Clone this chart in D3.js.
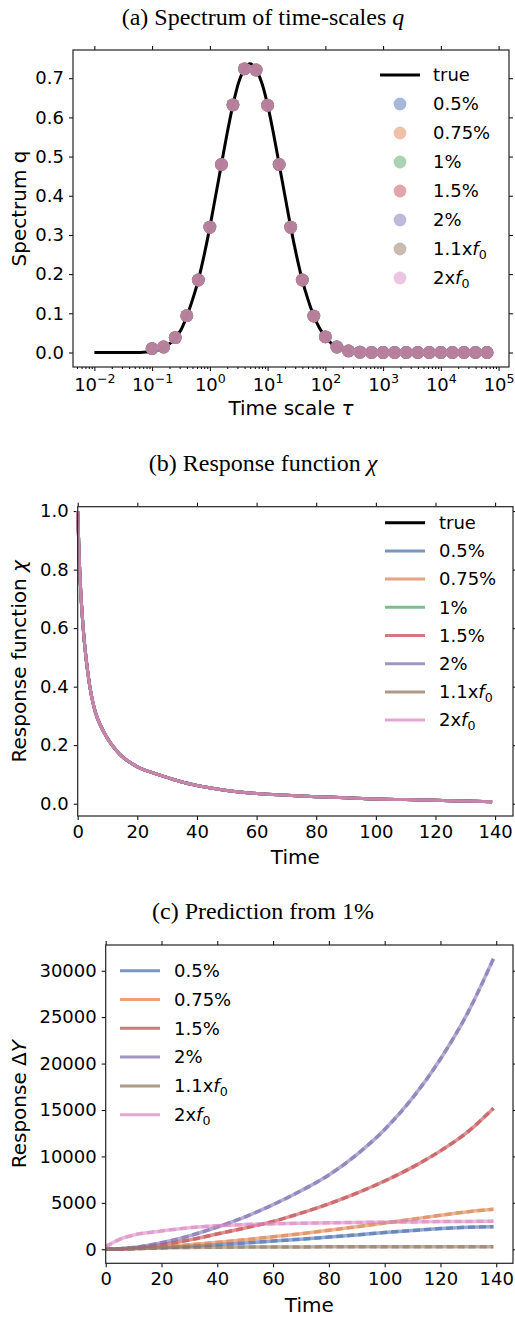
<!DOCTYPE html>
<html><head><meta charset="utf-8">
<script src="https://cdn.jsdelivr.net/npm/d3@7"></script>
<style>body{margin:0;background:#fff} svg{display:block}</style>
</head><body>
<svg id="c" width="515" height="1317"></svg>
<script>
// ---------- DATA ----------
const seriesNames  = ["0.5%", "0.75%", "1%", "1.5%", "2%", "1.1xf0", "2xf0"];
const seriesColors = ["#4C72B0", "#DD8452", "#55A868", "#C44E52", "#8172B3", "#937860", "#DA8BC3"];

// (a) spectrum: true curve (log10 tau) and fitted points
const trueLogTau = [-2.0,-1.8,-1.6,-1.4,-1.2,-1.1,-1.0,-0.9,-0.8,-0.7,-0.6,-0.5,-0.4,-0.3,-0.2,-0.1,0.0,0.1,0.2,0.3,0.4,0.5,0.6,0.7,0.8,0.9,1.0,1.1,1.2,1.3,1.4,1.5,1.6,1.7,1.8,1.9,2.0,2.1,2.2,2.3,2.4,2.5,2.6,2.8,3.2,3.6,4.0,4.4,4.8];
const trueQ      = [0,0,0,0,0,0.001,0.003,0.006,0.012,0.022,0.036,0.058,0.092,0.135,0.185,0.248,0.32,0.40,0.48,0.56,0.632,0.69,0.724,0.737,0.722,0.688,0.632,0.56,0.48,0.40,0.32,0.248,0.185,0.135,0.093,0.062,0.04,0.024,0.014,0.008,0.004,0.002,0.001,0,0,0,0,0,0];
const pointLogTau = [-1.0,-0.8,-0.6,-0.4,-0.2,0.0,0.2,0.4,0.6,0.8,1.0,1.2,1.4,1.6,1.8,2.0,2.2,2.4,2.6,2.8,3.0,3.2,3.4,3.6,3.8,4.0,4.2,4.4,4.6,4.8];
const pointQ      = [0.010,0.014,0.038,0.094,0.185,0.32,0.48,0.632,0.724,0.721,0.631,0.48,0.32,0.185,0.093,0.040,0.014,0.004,0.001,0,0,0,0,0,0,0,0,0,0,0];

// (b) response function
const chiTime   = [0,0.5,1,2,3,4,5,6,8,10,12,14,16,18,20,25,30,35,40,50,60,70,80,90,100,110,120,130,139];
const chiValues = [1.0,0.84,0.73,0.58,0.48,0.405,0.35,0.31,0.26,0.223,0.194,0.17,0.152,0.138,0.126,0.106,0.09,0.074,0.062,0.045,0.035,0.029,0.024,0.02,0.016,0.014,0.012,0.009,0.007];

// (c) prediction
const predNames  = ["0.5%", "0.75%", "1.5%", "2%", "1.1xf0", "2xf0"];
const predColors = ["#4C72B0", "#DD8452", "#C44E52", "#8172B3", "#937860", "#DA8BC3"];
const predTime   = [0,5,10,20,30,40,50,60,70,80,90,100,110,120,130,139];
const pred05  = [0,20,50,170,320,500,680,880,1090,1310,1550,1800,2030,2230,2380,2430];
const pred075 = [0,25,70,250,480,750,1030,1340,1680,2040,2420,2820,3240,3660,4050,4300];
const pred15  = [0,40,140,500,1000,1650,2300,3000,3900,4900,6050,7350,8850,10600,12700,15200];
const pred2   = [0,50,190,700,1450,2400,3500,4800,6300,8000,10200,12900,16300,20500,25600,31300];
const pred11f = [0,60,110,170,200,220,235,245,255,262,268,272,276,278,280,280];
const pred2f  = [280,1075,1540,1970,2330,2540,2660,2740,2800,2850,2890,2920,2950,2980,3000,3015];

// ---------- DRAW ----------
const svg = d3.select("#c");
const SANS = "DejaVu Sans", SERIF = "Liberation Serif";
const TICK_FS = 18, LABEL_FS = 20, LEG_FS = 18, TITLE_FS = 24;

function styleAxis(g) {
  g.selectAll("path.domain").remove();
  g.selectAll("line").attr("stroke", "#000").attr("stroke-width", 1);
  g.selectAll("text").attr("font-family", SANS).attr("font-size", TICK_FS).attr("fill", "#000");
}

function frame(x0, x1, y0, y1) {
  svg.append("rect").attr("x", x0).attr("y", y0).attr("width", x1 - x0).attr("height", y1 - y0)
    .attr("fill", "none").attr("stroke", "#222").attr("stroke-width", 1.2);
}

function title(text, italicTail, y) {
  const t = svg.append("text").attr("x", 263).attr("y", y).attr("text-anchor", "middle")
    .attr("font-family", SERIF).attr("font-size", TITLE_FS).attr("fill", "#000");
  t.append("tspan").text(text);
  if (italicTail) t.append("tspan").attr("font-style", "italic").text(italicTail);
}

function seriesLabel(sel, name) {
  const m = name.match(/^(.*x)f0$/);
  if (m) {
    sel.append("tspan").text(m[1]);
    sel.append("tspan").attr("font-style", "italic").text("f");
    sel.append("tspan").attr("font-size", LEG_FS * 0.7).attr("dy", 4).text("0");
  } else sel.text(name);
}

function linearAxes(x, y, xTicks, yTicks, yFmt, L, R, T, B) {
  const gb = svg.append("g").attr("transform", `translate(0,${B})`)
    .call(d3.axisBottom(x).tickValues(xTicks).tickSize(4).tickPadding(5).tickFormat(d3.format("d")));
  styleAxis(gb);
  const gt = svg.append("g").attr("transform", `translate(0,${T})`)
    .call(d3.axisTop(x).tickValues(xTicks).tickSize(4).tickFormat(""));
  styleAxis(gt);
  const gl = svg.append("g").attr("transform", `translate(${L},0)`)
    .call(d3.axisLeft(y).tickValues(yTicks).tickSize(4).tickPadding(5).tickFormat(yFmt));
  styleAxis(gl);
  const gr = svg.append("g").attr("transform", `translate(${R},0)`)
    .call(d3.axisRight(y).tickValues(yTicks).tickSize(4).tickFormat(""));
  styleAxis(gr);
}

function axisLabelX(text, cx, y, italicTail) {
  const t = svg.append("text").attr("x", cx).attr("y", y).attr("text-anchor", "middle")
    .attr("font-family", SANS).attr("font-size", LABEL_FS).attr("fill", "#000");
  t.append("tspan").text(text);
  if (italicTail) t.append("tspan").attr("font-style", "italic").text(italicTail);
}
function axisLabelY(parts, x, cy) {
  const t = svg.append("text").attr("transform", `translate(${x},${cy}) rotate(-90)`)
    .attr("text-anchor", "middle").attr("font-family", SANS).attr("font-size", LABEL_FS).attr("fill", "#000");
  parts.forEach(p => t.append("tspan").attr("font-style", p[1] ? "italic" : "normal").text(p[0]));
}

// ===== Panel (a) =====
{
  const L = 73, R = 509, T = 50, B = 367;
  const x = d3.scaleLog().domain([Math.pow(10, -2.37), Math.pow(10, 5.18)]).range([L, R]);
  const y = d3.scaleLinear().domain([-0.037, 0.772]).range([B, T]);
  title("(a) Spectrum of time-scales ", "q", 25);

  const majors = d3.range(-2, 6).map(e => Math.pow(10, e));
  const minors = [];
  for (let e = -3; e <= 5; e++) for (let k = 2; k <= 9; k++) {
    const v = k * Math.pow(10, e);
    if (v > x.domain()[0] && v < x.domain()[1]) minors.push(v);
  }
  const gb = svg.append("g").attr("transform", `translate(0,${B})`)
    .call(d3.axisBottom(x).tickValues(majors).tickSize(4).tickPadding(5).tickFormat(""));
  styleAxis(gb);
  gb.selectAll(".tick").append("text").attr("y", 24).attr("text-anchor", "middle")
    .attr("font-family", SANS).attr("font-size", TICK_FS).attr("fill", "#000")
    .each(function (d) {
      const e = Math.round(Math.log10(d));
      const s = d3.select(this);
      s.append("tspan").text("10");
      s.append("tspan").attr("font-size", TICK_FS * 0.7).attr("dy", -8).text(e < 0 ? "\u2212" + (-e) : String(e));
    });
  const gm = svg.append("g").attr("transform", `translate(0,${B})`)
    .call(d3.axisBottom(x).tickValues(minors).tickSize(2).tickFormat(""));
  styleAxis(gm);
  const gt = svg.append("g").attr("transform", `translate(0,${T})`)
    .call(d3.axisTop(x).tickValues(majors).tickSize(4).tickFormat(""));
  styleAxis(gt);
  const yT = d3.range(0, 0.71, 0.1);
  const gl = svg.append("g").attr("transform", `translate(${L},0)`)
    .call(d3.axisLeft(y).tickValues(yT).tickSize(4).tickPadding(5).tickFormat(d3.format(".1f")));
  styleAxis(gl);
  const gr = svg.append("g").attr("transform", `translate(${R},0)`)
    .call(d3.axisRight(y).tickValues(yT).tickSize(4).tickFormat(""));
  styleAxis(gr);

  const line = d3.line().x((d, i) => x(Math.pow(10, trueLogTau[i]))).y(d => y(d)).curve(d3.curveMonotoneX);
  svg.append("path").attr("d", line(trueQ)).attr("fill", "none").attr("stroke", "#000").attr("stroke-width", 3);

  seriesNames.forEach((n, si) => {
    svg.append("g").selectAll("circle").data(pointQ).join("circle")
      .attr("cx", (d, i) => x(Math.pow(10, pointLogTau[i]))).attr("cy", d => y(d)).attr("r", 6.4)
      .attr("fill", seriesColors[si]).attr("fill-opacity", 0.5);
  });
  frame(L, R, T, B);

  // legend
  const lg = svg.append("g");
  lg.append("line").attr("x1", 380).attr("x2", 420).attr("y1", 75).attr("y2", 75).attr("stroke", "#000").attr("stroke-width", 3);
  lg.append("text").attr("x", 433).attr("y", 75).attr("dy", "0.35em").attr("font-family", SANS).attr("font-size", LEG_FS).text("true");
  seriesNames.forEach((n, i) => {
    const yy = 75 + 29 * (i + 1);
    lg.append("circle").attr("cx", 400).attr("cy", yy).attr("r", 6.4).attr("fill", seriesColors[i]).attr("fill-opacity", 0.5);
    const t = lg.append("text").attr("x", 433).attr("y", yy).attr("dy", "0.35em").attr("font-family", SANS).attr("font-size", LEG_FS);
    seriesLabel(t, n);
  });

  axisLabelX("Time scale ", (L + R) / 2, 415, "\u03c4");
  axisLabelY([["Spectrum q", false]], 26, (T + B) / 2);
}

// ===== Panel (b) =====
{
  const L = 77.7, R = 513, T = 506.7, B = 816;
  const x = d3.scaleLinear().domain([0, 146]).range([L, R]);
  const y = d3.scaleLinear().domain([-0.042, 1.015]).range([B, T]);
  title("(b) Response function ", "\u03c7", 471);
  linearAxes(x, y, d3.range(0, 141, 20), d3.range(0, 1.01, 0.2), d3.format(".1f"), L, R, T, B);

  const line = d3.line().x((d, i) => x(chiTime[i])).y(d => y(d)).curve(d3.curveMonotoneX);
  svg.append("path").attr("d", line(chiValues)).attr("fill", "none").attr("stroke", "#000").attr("stroke-width", 3);
  seriesNames.forEach((n, si) => {
    svg.append("path").attr("d", line(chiValues)).attr("fill", "none")
      .attr("stroke", seriesColors[si]).attr("stroke-opacity", 0.75).attr("stroke-width", 3);
  });
  frame(L, R, T, B);

  const lg = svg.append("g");
  ["true"].concat(seriesNames).forEach((n, i) => {
    const yy = 522.7 + 28.2 * i;
    lg.append("line").attr("x1", 385).attr("x2", 425).attr("y1", yy).attr("y2", yy)
      .attr("stroke", i === 0 ? "#000" : seriesColors[i - 1]).attr("stroke-opacity", i === 0 ? 1 : 0.75).attr("stroke-width", 3);
    const t = lg.append("text").attr("x", 439).attr("y", yy).attr("dy", "0.35em").attr("font-family", SANS).attr("font-size", LEG_FS);
    seriesLabel(t, n);
  });

  axisLabelX("Time", (L + R) / 2, 864);
  axisLabelY([["Response function ", false], ["\u03c7", true]], 26, (T + B) / 2);
}

// ===== Panel (c) =====
{
  const L = 105.7, R = 513, T = 945, B = 1263.3;
  const x = d3.scaleLinear().domain([0, 146]).range([L, R]);
  const y = d3.scaleLinear().domain([-1510, 32770]).range([B, T]);
  title("(c) Prediction from 1%", null, 919);
  linearAxes(x, y, d3.range(0, 141, 20), d3.range(0, 30001, 5000), d3.format("d"), L, R, T, B);

  const series = [pred05, pred075, pred15, pred2, pred11f, pred2f];
  const line = d3.line().x((d, i) => x(predTime[i])).y(d => y(d)).curve(d3.curveMonotoneX);
  series.forEach((vals, si) => {
    svg.append("path").attr("d", line(vals)).attr("fill", "none")
      .attr("stroke", predColors[si]).attr("stroke-opacity", 0.6).attr("stroke-width", 3.5);
  });
  series.forEach((vals, si) => {
    svg.append("path").attr("d", line(vals)).attr("fill", "none")
      .attr("stroke", predColors[si]).attr("stroke-opacity", 0.6).attr("stroke-width", 3.5)
      .attr("stroke-dasharray", "7,4");
  });
  frame(L, R, T, B);

  const lg = svg.append("g");
  predNames.forEach((n, i) => {
    const yy = 970.7 + 28.8 * i;
    lg.append("line").attr("x1", 120).attr("x2", 160).attr("y1", yy).attr("y2", yy)
      .attr("stroke", predColors[i]).attr("stroke-opacity", 0.75).attr("stroke-width", 3);
    const t = lg.append("text").attr("x", 174).attr("y", yy).attr("dy", "0.35em").attr("font-family", SANS).attr("font-size", LEG_FS);
    seriesLabel(t, n);
  });

  axisLabelX("Time", (L + R) / 2, 1312);
  axisLabelY([["Response \u0394", false], ["Y", true]], 26, (T + B) / 2);
}
</script>
</body></html>
